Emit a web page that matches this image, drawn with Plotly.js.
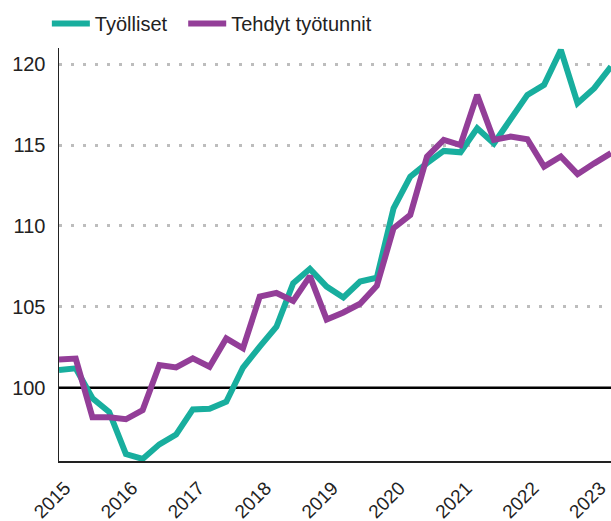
<!DOCTYPE html>
<html>
<head>
<meta charset="utf-8">
<script src="https://cdn.plot.ly/plotly-3.0.1.min.js"></script>
<style>html,body{margin:0;padding:0;background:#fff;}#chart{width:611px;height:521px;}</style>
</head>
<body>
<div id="chart"></div>
<script>
// Quarterly index values, 2015 Q1 .. 2023 Q2
const quarters = [];
for (let y = 2015; y <= 2023; y++) { for (let q = 0; q < 4; q++) { quarters.push(y + q / 4); } }
const xQuarters = quarters.slice(0, 34);

const tyolliset = [101.1, 101.2, 99.35, 98.5, 95.9, 95.6, 96.5, 97.1, 98.66, 98.7,
  99.13, 101.25, 102.54, 103.77, 106.46, 107.35, 106.25, 105.58, 106.56, 106.8,
  111.09, 113.05, 113.88, 114.64, 114.55, 116.04, 115.1, 116.55, 118.1, 118.72,
  120.88, 117.59, 118.52, 119.85];

const tyotunnit = [101.75, 101.8, 98.17, 98.17, 98.05, 98.62, 101.4, 101.25, 101.82, 101.3,
  103.05, 102.44, 105.63, 105.86, 105.37, 106.9, 104.22, 104.65, 105.19, 106.3,
  109.86, 110.68, 114.29, 115.32, 115.0, 118.1, 115.32, 115.52, 115.36, 113.67,
  114.29, 113.2, 113.87, 114.5];

const seriesNames = ["Työlliset", "Tehdyt työtunnit"];
const tickYears = [2015, 2016, 2017, 2018, 2019, 2020, 2021, 2022, 2023];
const yTicks = [100, 105, 110, 115, 120];
const gridVals = [105, 110, 115, 120];
const baseline = 100;
const yRange = [95.47, 121.0];

const teal = "#18ae9e";
const purple = "#933e98";

const traces = [
  { x: xQuarters, y: tyolliset, name: seriesNames[0], type: "scatter", mode: "lines",
    line: { color: teal, width: 6 }, legend: "legend" },
  { x: xQuarters, y: tyotunnit, name: seriesNames[1], type: "scatter", mode: "lines",
    line: { color: purple, width: 6 }, legend: "legend2" }
];

// invisible helper trace so the grid axis is drawn
traces.push({ x: [xQuarters[0]], y: [yTicks[0]], yaxis: "y2", type: "scatter", mode: "lines",
  showlegend: false, hoverinfo: "skip", line: { width: 0 } });

const legendCommon = { orientation: "h", xanchor: "left", y: 1.012, yanchor: "bottom",
  font: { size: 20, color: "#222" }, itemwidth: 38, bgcolor: "rgba(0,0,0,0)" };

const layout = {
  width: 611, height: 521,
  margin: { l: 59, r: 0, t: 48, b: 60, pad: 0 },
  paper_bgcolor: "#fff", plot_bgcolor: "#fff",
  font: { family: "Liberation Sans, Arial, sans-serif", size: 19, color: "#222" },
  showlegend: true,
  legend: Object.assign({}, legendCommon, { x: -0.022 }),
  legend2: Object.assign({}, legendCommon, { x: 0.225 }),
  xaxis: {
    range: [2015, 2023.25], tickvals: tickYears, ticktext: tickYears.map(String),
    tickangle: -45, showgrid: false, zeroline: false,
    showline: true, linecolor: "#222", linewidth: 1.5, ticks: "",
    ticklabelstandoff: 7, ticklabelshift: 6,
    tickfont: { size: 19, color: "#222" }
  },
  yaxis: {
    range: yRange, tickvals: yTicks, ticktext: yTicks.map(String),
    showgrid: false, zeroline: false, showline: true, linecolor: "#222", linewidth: 1.5, ticks: "",
    ticklabelstandoff: 8, tickfont: { size: 20, color: "#222" }
  },
  yaxis2: {
    range: yRange, overlaying: "y", side: "left", tickvals: gridVals, showticklabels: false,
    showgrid: true, gridcolor: "#bdbdbd", gridwidth: 3, griddash: "3px,9px",
    zeroline: false, showline: false, ticks: ""
  },
  shapes: [
    { type: "line", xref: "paper", yref: "y", x0: 0, x1: 1, y0: baseline, y1: baseline,
      line: { color: "#000", width: 2.5 }, layer: "below" }
  ]
};

Plotly.newPlot("chart", traces, layout, { displayModeBar: false, staticPlot: true });
</script>
</body>
</html>
